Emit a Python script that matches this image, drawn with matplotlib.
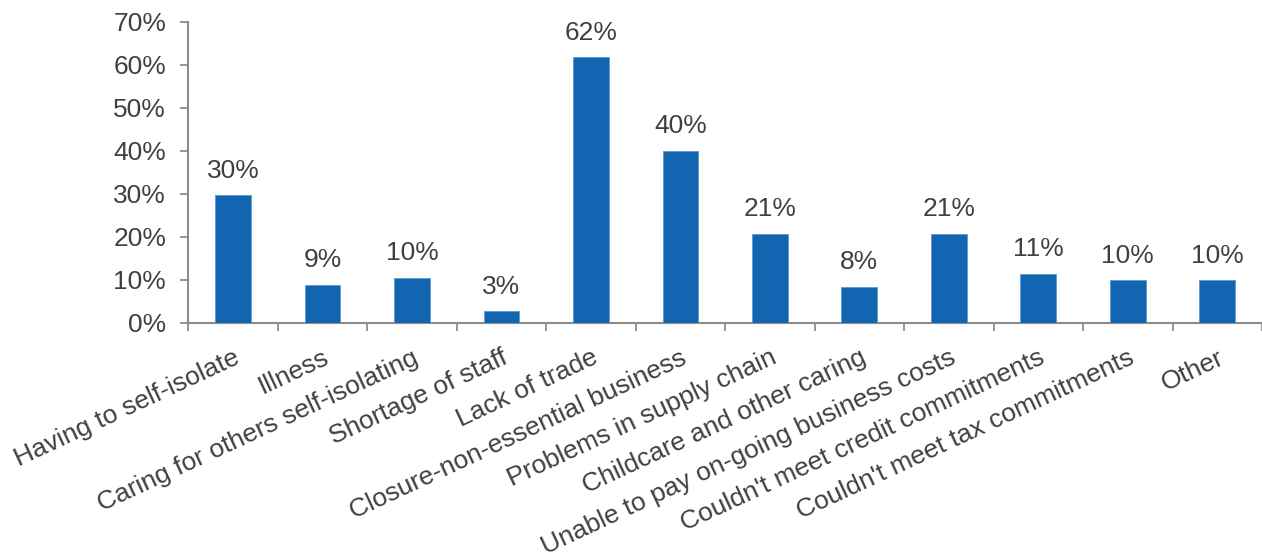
import matplotlib
matplotlib.use("Agg")
import matplotlib.pyplot as plt
from matplotlib.ticker import FuncFormatter, MultipleLocator

categories = [
    "Having to self-isolate",
    "Illness",
    "Caring for others self-isolating",
    "Shortage of staff",
    "Lack of trade",
    "Closure-non-essential business",
    "Problems in supply chain",
    "Childcare and other caring",
    "Unable to pay on-going business costs",
    "Couldn't meet credit commitments",
    "Couldn't meet tax commitments",
    "Other",
]
shares = [29.6, 8.8, 10.4, 2.6, 61.7, 40.0, 20.7, 8.3, 20.7, 11.4, 9.9, 9.9]

BAR_COLOR = "#1265b0"
TEXT_COLOR = "#404040"
AXIS_COLOR = "#8c8c8c"

plt.rcParams["font.family"] = ["Liberation Sans", "DejaVu Sans"]

fig = plt.figure(figsize=(12.62, 5.60), dpi=100)
ax = fig.add_axes([0.1492, 0.4238, 0.8508, 0.5375])

x = range(len(categories))
bars = ax.bar(x, shares, width=0.4, color=BAR_COLOR,
              edgecolor="#5e97cf", linewidth=0.6, zorder=3)

for xi, v in zip(x, shares):
    ax.annotate(f"{v:.0f}%", xy=(xi, v), xytext=(0, 9),
                textcoords="offset points", ha="center", va="bottom",
                fontsize=19, color=TEXT_COLOR)

ax.set_xlim(-0.5, len(categories) - 0.5)
ax.set_ylim(0, 70)
ax.yaxis.set_major_locator(MultipleLocator(10))
ax.yaxis.set_major_formatter(FuncFormatter(lambda v, _: f"{v:.0f}%"))

# category ticks sit on the boundaries between bars
ax.set_xticks([i - 0.5 for i in range(len(categories) + 1)])
ax.set_xticklabels([])
ax.set_xticks(list(x), minor=True)
ax.set_xticklabels(categories, minor=True, rotation=25, ha="right",
                   va="top", rotation_mode="anchor",
                   fontsize=19, color=TEXT_COLOR)
ax.tick_params(axis="x", which="minor", length=0, pad=16.5)
ax.tick_params(axis="x", which="major", length=6, width=1.3,
               color=AXIS_COLOR, direction="out")
ax.tick_params(axis="y", length=6, width=1.3, color=AXIS_COLOR,
               labelsize=19, labelcolor=TEXT_COLOR, pad=10)

for side in ("top", "right"):
    ax.spines[side].set_visible(False)
for side in ("left", "bottom"):
    ax.spines[side].set_color(AXIS_COLOR)
    ax.spines[side].set_linewidth(1.5)

fig.savefig("out.png", dpi=100)
